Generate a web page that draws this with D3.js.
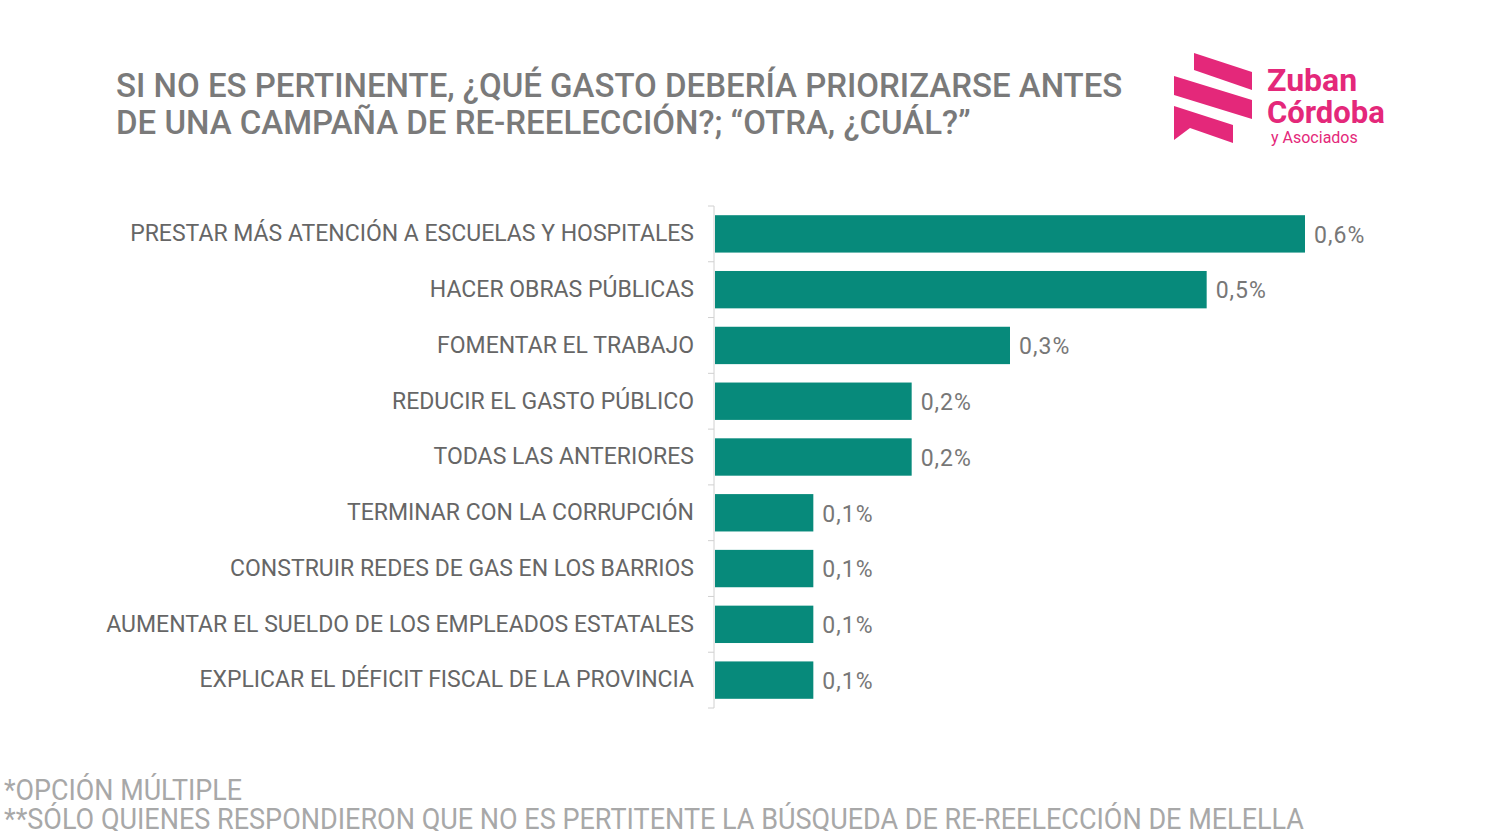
<!DOCTYPE html>
<html>
<head>
<meta charset="utf-8">
<script src="https://cdn.jsdelivr.net/npm/d3@7"></script>
<style>
  body { margin: 0; background: #fff; }
  svg text { font-family: "Roboto", "Noto Sans", sans-serif; }
</style>
</head>
<body>
<div id="main"></div>
<script>
const categories = [
    "PRESTAR MÁS ATENCIÓN A ESCUELAS Y HOSPITALES",
    "HACER OBRAS PÚBLICAS",
    "FOMENTAR EL TRABAJO",
    "REDUCIR EL GASTO PÚBLICO",
    "TODAS LAS ANTERIORES",
    "TERMINAR CON LA CORRUPCIÓN",
    "CONSTRUIR REDES DE GAS EN LOS BARRIOS",
    "AUMENTAR EL SUELDO DE LOS EMPLEADOS ESTATALES",
    "EXPLICAR EL DÉFICIT FISCAL DE LA PROVINCIA"
];
const values = [0.6, 0.5, 0.3, 0.2, 0.2, 0.1, 0.1, 0.1, 0.1];
const valueLabels = ["0,6%", "0,5%", "0,3%", "0,2%", "0,2%", "0,1%", "0,1%", "0,1%", "0,1%"];
const titleLines = [
    "SI NO ES PERTINENTE, ¿QUÉ GASTO DEBERÍA PRIORIZARSE ANTES",
    "DE UNA CAMPAÑA DE RE-REELECCIÓN?; “OTRA, ¿CUÁL?”"
];
const notes = [
    "*OPCIÓN MÚLTIPLE",
    "**SÓLO QUIENES RESPONDIERON QUE NO ES PERTITENTE LA BÚSQUEDA DE RE-REELECCIÓN DE MELELLA"
];
const noteWidths = [238, 1300];

const ctx = {
    w: 1497,
    h: 831,
    left: 715,
    top: 206,
    bottom: 708,
    barColor: "#078a7b",
    pink: "#e4287a"
};

const svg = d3.select("#main").append("svg")
    .attr("width", ctx.w)
    .attr("height", ctx.h);

// Escalas
const x = d3.scaleLinear().domain([0, 0.6]).range([ctx.left, ctx.left + 590]);
const y = d3.scaleBand().domain(categories).range([ctx.top, ctx.bottom]).paddingInner(0.33).paddingOuter(0.165);

// Titre
svg.append("g").selectAll("text")
    .data(titleLines)
    .enter().append("text")
    .attr("x", 116)
    .attr("y", (d, i) => 97 + i * 37)
    .style("font-size", "33px")
    .style("font-weight", "500")
    .style("fill", "#7a7a7a")
    .text(d => d);

// Barres
svg.append("g").selectAll("rect")
    .data(values)
    .enter().append("rect")
    .attr("x", x(0))
    .attr("y", (d, i) => y(categories[i]))
    .attr("width", d => x(d) - x(0))
    .attr("height", y.bandwidth())
    .style("fill", ctx.barColor);

// Axe Y
const yAxis = d3.axisLeft(y).tickSize(0).tickPadding(20);
const gy = svg.append("g")
    .attr("transform", `translate(${ctx.left - 1}, 0)`)
    .call(yAxis);
gy.select(".domain").attr("stroke", "#d0d0d0").attr("d", `M-6,${ctx.top}H0V${ctx.bottom}H-6`);
gy.selectAll("text")
    .style("font-size", "23px")
    .style("fill", "#666")
    .attr("font-family", null);

// séparateurs entre catégories
const step = y.step();
gy.selectAll(".sep")
    .data(categories.slice(1))
    .enter().append("line")
    .attr("x1", -6).attr("x2", 0)
    .attr("y1", d => y(d) - (step - y.bandwidth()) / 2)
    .attr("y2", d => y(d) - (step - y.bandwidth()) / 2)
    .attr("stroke", "#d0d0d0");

// Valeurs
svg.append("g").selectAll("text")
    .data(values)
    .enter().append("text")
    .attr("x", d => x(d) + 9)
    .attr("y", (d, i) => y(categories[i]) + y.bandwidth() / 2)
    .attr("dy", "0.38em")
    .style("font-size", "23px")
    .style("letter-spacing", "1px")
    .style("fill", "#777")
    .text((d, i) => valueLabels[i]);

// Notes
svg.append("g").selectAll("text")
    .data(notes)
    .enter().append("text")
    .attr("x", 4)
    .attr("y", (d, i) => 800 + i * 29)
    .attr("textLength", (d, i) => noteWidths[i])
    .attr("lengthAdjust", "spacingAndGlyphs")
    .style("font-size", "29px")
    .style("fill", "#a8a8a8")
    .text(d => d);

// Logo
const logo = svg.append("g");
const stripes = [
    [[1194, 53], [1252, 72], [1252, 90], [1194, 70]],
    [[1174, 76], [1252, 100], [1252, 119], [1174, 95]],
    [[1174, 106], [1233, 125], [1233, 143], [1190, 128], [1174, 140]]
];
logo.selectAll("path")
    .data(stripes)
    .enter().append("path")
    .attr("d", d => "M" + d.join("L") + "Z")
    .style("fill", ctx.pink);
logo.append("text").attr("x", 1267).attr("y", 91)
    .style("font-size", "32px").style("font-weight", "bold").style("fill", ctx.pink).text("Zuban");
logo.append("text").attr("x", 1267).attr("y", 123)
    .style("font-size", "31px").style("font-weight", "bold").style("fill", ctx.pink).text("Córdoba");
logo.append("text").attr("x", 1271).attr("y", 143)
    .style("font-size", "16px").style("fill", ctx.pink).text("y Asociados");
</script>
</body>
</html>
